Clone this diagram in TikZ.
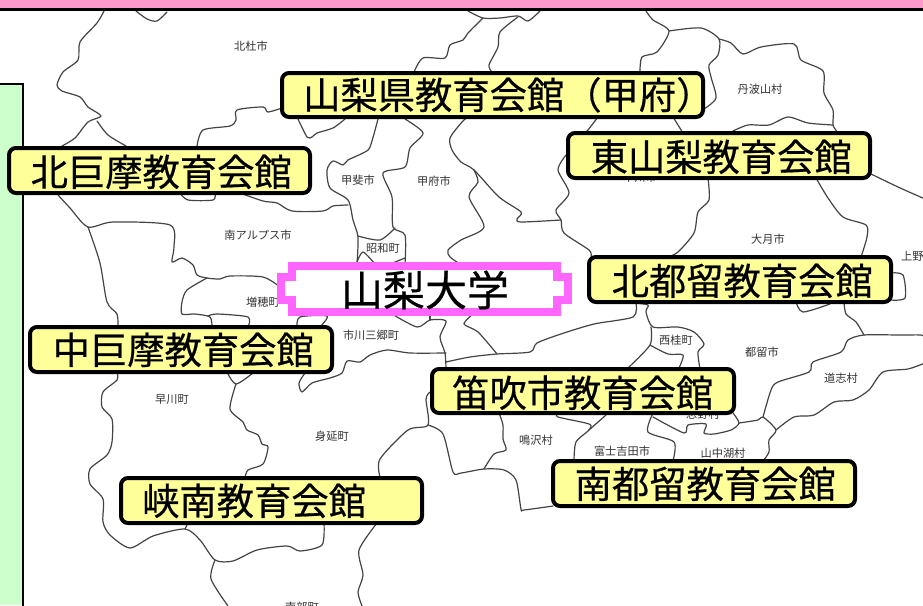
\documentclass[tikz,border=0pt]{standalone}
\usepackage{fontspec}
\newfontfamily\jp{Noto Sans CJK JP}
\newfontfamily\jpk[FakeBold=0.5]{Noto Sans CJK JP}
\definecolor{barpink}{HTML}{FF99CC}
\definecolor{panelgreen}{HTML}{CCFFCC}
\definecolor{boxyellow}{HTML}{FFFF99}
\definecolor{plaque}{HTML}{FF66FF}
\definecolor{mapgray}{HTML}{444444}
\tikzset{
  mapl/.style={draw=mapgray,line width=1.2pt,line join=round,line cap=round},
  townl/.style={inner sep=0pt,font=\jp\fontsize{11.2}{11.2}\selectfont,text=black!80},
  kanbox/.style={draw=black,fill=boxyellow,line width=4pt,rounded corners=7pt},
  kantext/.style={inner sep=0pt,anchor=west,text=black,text height=32.5pt,text depth=4.5pt,font=\jpk\fontsize{37.3}{37.3}\selectfont},
}
\newcommand{\ml}[1]{\draw[mapl] plot[smooth,tension=.45] coordinates {#1};}
\newcommand{\kan}[8]{\draw[kanbox] (#2+2,#3+2) rectangle (#4-2,#5-2);
  \node[kantext] (#1) at (#6,#7) {#8};}
\begin{document}
\begin{tikzpicture}[x=1pt,y=-1pt]
\useasboundingbox (0,0) rectangle (923,605);
\clip (0,0) rectangle (923,605);
\fill[white] (0,0) rectangle (923,605);
% map boundaries
\ml{(104,11)(97,23)(80,42)(78,60)(63,72)(57,85)(62,91)(80,97)(88,107)(101,116)(88,122)(75,138)(62,146)}
\ml{(97,121)(108,135)(126,146)}
\ml{(136,11)(147,19)(157,21)(167,12)}
\ml{(197,146)(203,130)(230,126)(236,120)(237,110)(263,107)(268,112)(285,107)}
\ml{(298,119)(307,137)(312,137)(317,133)(333,128)(345,119)}
\ml{(378,119)(370,147)(363,153)(348,160)(343,165)(333,161)(327,170)(330,188)(348,200)(353,220)(358,237)(357,264)}
\ml{(405,119)(423,133)(410,148)(405,167)(383,173)(392,197)(393,227)(405,235)(405,264)}
\ml{(358,236)(380,240)(395,228)}
\ml{(357,262)(363,252)(375,264)}
\ml{(390,264)(405,258)}
\ml{(58,195)(70,208)(88,227)(113,222)(170,225)(174,247)(172,262)(182,258)(193,265)(197,275)(207,278)(220,279)(230,276)(263,277)(280,287)}
\ml{(88,227)(100,263)(107,302)(117,314)(118,327)}
\ml{(180,193)(188,200)(213,200)(215,193)}
\ml{(240,193)(263,201)(277,203)(292,211)(323,211)(333,206)(348,205)}
\ml{(207,278)(187,290)(182,302)(182,314)(195,314)(210,317)(212,327)}
\ml{(208,316)(217,314)(248,317)(248,327)}
\ml{(297,327)(300,317)(327,316)(320,327)}
\ml{(392,314)(417,327)(430,320)(446,321)(440,337)(445,353)(446,369)}
\ml{(430,314)(430,320)}
\ml{(473,314)(464,324)(478,332)(497,354)}
\ml{(446,362)(470,357)(497,354)(530,352)(537,343)(561,334)(594,324)(633,317)(636,303)}
\ml{(446,353)(410,353)(387,350)(370,355)(360,362)(347,361)(342,373)(330,378)(312,383)(302,392)(299,383)(305,373)}
\ml{(430,392)(426,399)(428,425)(408,430)(380,459)(380,477)}
\ml{(428,425)(443,434)(453,472)(461,473)(484,469)(504,470)(516,480)(521,509)(524,510)(553,506)}
\ml{(484,469)(494,454)(506,450)(503,439)(503,425)(499,413)}
\ml{(558,413)(558,417)(589,424)(589,430)(576,442)(574,461)}
\ml{(589,430)(606,415)}
\ml{(653,413)(648,432)(674,442)(673,461)}
\ml{(653,417)(684,433)(688,425)(706,424)(704,433)(714,434)(731,430)(739,423)(733,413)}
\ml{(739,423)(758,420)(763,417)(776,430)(769,440)(769,452)(763,461)}
\ml{(763,417)(771,390)(778,382)(809,372)(813,362)(841,352)(848,340)(864,335)(900,335)(921,335)(925,337)}
\ml{(776,430)(794,417)(814,415)(834,402)(853,400)(869,390)(883,372)(908,369)(925,363)}
\ml{(864,335)(856,322)(846,314)(844,302)}
\ml{(796,302)(803,312)(830,304)}
\ml{(890,273)(903,275)(905,298)(890,300)}
\ml{(634,303)(648,305)(646,312)(653,327)(678,327)(694,332)(704,344)(698,352)(700,369)}
\ml{(651,327)(650,345)(629,367)}
\ml{(650,345)(668,354)(683,355)(679,368)}
\ml{(468,11)(483,18)(500,18)(518,16)(528,21)(540,11)}
\ml{(483,18)(468,33)(463,40)(450,45)(445,58)(423,58)(414,72)}
\ml{(518,17)(500,32)(498,47)(489,65)(492,72)}
\ml{(646,11)(653,20)(669,31)(657,52)(642,57)(640,72)}
\ml{(669,31)(701,28)(719,39)(718,55)(709,65)(711,77)(716,98)(704,109)}
\ml{(719,39)(731,43)(743,54)(761,47)(794,44)(801,60)(823,71)(824,93)(833,110)(833,125)(838,133)}
\ml{(733,131)(748,125)(769,125)(788,117)(808,123)(833,125)}
\ml{(598,117)(588,130)(585,133)}
\ml{(673,117)(683,133)}
\ml{(871,174)(898,187)(925,199)}
\ml{(816,178)(828,198)(843,217)(866,225)(867,237)(861,257)}
\ml{(708,178)(709,200)(698,212)(694,233)(678,252)(668,257)}
\ml{(566,155)(558,170)(569,193)(556,210)(561,220)(564,233)(589,250)(591,257)}
\ml{(561,220)(521,222)(517,219)(521,212)(499,197)(474,170)(461,162)(452,150)(450,138)(462,122)(468,117)}
\ml{(474,170)(478,182)(469,197)(484,227)(461,240)(448,250)(450,257)(460,264)}
\ml{(117,372)(117,380)(103,392)(102,407)(112,419)(112,442)(107,455)(90,469)(90,484)(103,499)(103,522)(110,535)(130,548)(153,536)(185,529)(200,540)(215,560)(233,561)(257,550)(287,546)(300,551)(322,545)(324,523)}
\ml{(185,529)(188,523)}
\ml{(215,560)(211,579)(228,606)}
\ml{(377,523)(359,550)(363,575)(358,592)(362,606)}
\ml{(227,372)(236,384)(253,373)}
\ml{(236,384)(230,409)(243,422)(247,430)(258,435)(262,444)(268,447)(263,464)(248,470)(245,478)}
% town labels
\node[townl] (t1) at (251,46) {北杜市};
\node[townl] (t2) at (760,89) {丹波山村};
\node[townl] (t3) at (358,180) {甲斐市};
\node[townl] (t4) at (434,181) {甲府市};
\node[townl] (t5) at (258,235) {南アルプス市};
\node[townl] (t6) at (383,248) {昭和町};
\node[townl] (t7) at (768,239) {大月市};
\node[townl,anchor=west] (t8) at (901,256) {上野原市};
\node[townl] (t9) at (263,302) {増穂町};
\node[townl] (t10) at (371,335) {市川三郷町};
\node[townl] (t11) at (172,400) {早川町};
\node[townl] (t12) at (332,436) {身延町};
\node[townl] (t13) at (676,340) {西桂町};
\node[townl] (t14) at (762,352) {都留市};
\node[townl] (t15) at (841,378) {道志村};
\node[townl] (t16) at (536,440) {鳴沢村};
\node[townl] (t17) at (622,451) {富士吉田市};
\node[townl] (t18) at (723,453) {山中湖村};
\node[townl] (t19) at (703,414) {忍野村};
\node[townl] (t20) at (640,177) {甲州市};
\node[townl] (t21) at (302,607) {南部町};
% frame
\fill[barpink] (0,0) rectangle (923,8);
\fill[black] (0,7.5) rectangle (923,11);
\fill[panelgreen] (0,84) rectangle (23,605);
\draw[black,line width=1.4pt] (0,84) -- (23,84) -- (23,606);
% plaque
\fill[white] (292,266) -- (557,266) -- (557,277) -- (568,277) -- (568,300) -- (557,300) -- (557,312) -- (292,312) -- (292,300) -- (281,300) -- (281,277) -- (292,277) -- cycle;
\draw[plaque,line width=7.8pt,line join=miter] (292,266) -- (557,266) -- (557,277) -- (568,277) -- (568,300) -- (557,300) -- (557,312) -- (292,312) -- (292,300) -- (281,300) -- (281,277) -- (292,277) -- cycle;
\node[inner sep=0pt,text height=37pt,text depth=5pt,font=\jpk\fontsize{42}{42}\selectfont] (univ) at (425,290) {山梨大学};
% kaikan boxes
\kan{k1}{280}{71}{705}{119}{303}{95}{山梨県教育会館（甲府）}
\kan{k2}{566}{131}{872}{180}{590.5}{157}{東山梨教育会館}
\kan{k3}{587}{255}{893}{304}{611.5}{281}{北都留教育会館}
\kan{k4}{7}{146}{312}{195}{30.5}{172}{北巨摩教育会館}
\kan{k5}{28}{325}{334}{374}{52.5}{350}{中巨摩教育会館}
\kan{k6}{430}{367}{736}{415}{452}{393}{笛吹市教育会館}
\kan{k7}{119}{476}{424}{525}{142}{501}{峡南教育会館}
\kan{k8}{551}{459}{857}{508}{574.5}{484}{南都留教育会館}
\end{tikzpicture}
\end{document}
